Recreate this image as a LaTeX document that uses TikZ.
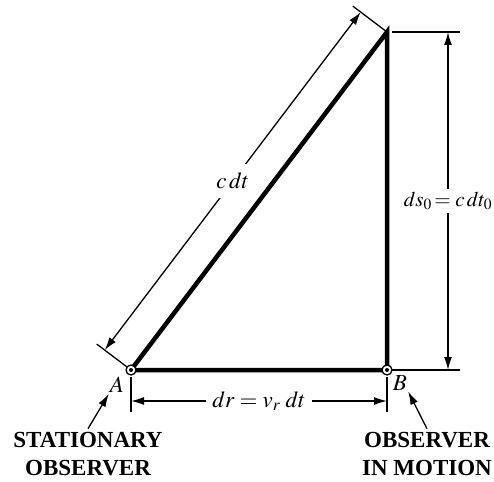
\documentclass[tikz,border=0pt]{standalone}
\usepackage{mathptmx}
\usepackage{fontspec}
\setmainfont{Liberation Serif}
\usetikzlibrary{arrows.meta,calc,positioning}

\begin{document}
\begin{tikzpicture}[x=1pt,y=-1pt,
  bar/.style={line width=4.5pt},
  extline/.style={line width=1.3pt},
  dimline/.style={line width=1.3pt,{Latex[length=13pt,width=8pt]}-{Latex[length=13pt,width=8pt]}},
  ptr/.style={line width=1.3pt,-{Latex[length=13pt,width=8pt]}},
  pivot/.style={circle,draw,fill=white,line width=1.3pt,minimum size=10pt,inner sep=0pt},
  lbl/.style={fill=white,inner sep=5pt,font=\fontsize{23}{27}\selectfont},
  caption/.style={align=center,font=\bfseries\fontsize{23}{28}\selectfont}
]
  \useasboundingbox (0,0) rectangle (494,481);

  % Triangle corners
  \coordinate (A) at (131,370);
  \coordinate (B) at (387,370);
  \coordinate (C) at (387,32);
  \draw[bar] (A) -- (B) -- (C) -- cycle;

  % Dimension c dt (along the hypotenuse)
  \coordinate (A1) at ($(A)!43pt!90:(C)$);
  \coordinate (C1) at ($(C)!43pt!-90:(A)$);
  \coordinate (A2) at ($(A)!33pt!90:(C)$);
  \coordinate (C2) at ($(C)!33pt!-90:(A)$);
  \draw[extline] (A) -- (A1);
  \draw[extline] (C) -- (C1);
  \draw[dimline] (A2) -- node[lbl,inner ysep=9pt]{$c\,dt$} (C2);

  % Dimension ds_0 (vertical side)
  \coordinate (C3) at (392,32);
  \coordinate (C4) at (460,32);
  \coordinate (B3) at (392,370);
  \coordinate (B4) at (460,370);
  \draw[extline] (C3) -- (C4);
  \draw[extline] (B3) -- (B4);
  \draw[dimline] (448,32) -- node[lbl,inner sep=3pt,font=\fontsize{21}{25}\selectfont]{$ds_0\!=c\,dt_0$} (448,370);

  % Dimension dr (base)
  \coordinate (A5) at (131,377);
  \coordinate (A6) at (131,412);
  \coordinate (B5) at (387,377);
  \coordinate (B6) at (387,412);
  \draw[extline] (A5) -- (A6);
  \draw[extline] (B5) -- (B6);
  \draw[dimline] (131,401) -- node[lbl,inner xsep=6pt,inner ysep=2pt]{$dr = v_r\;dt$} (387,401);

  % Observers
  \node[pivot] (pA) at (A) {};
  \node[pivot] (pB) at (B) {};
  \fill (pA.center) circle (2pt);
  \fill (pB.center) circle (2pt);
  \node[lbl,fill=none,inner sep=1pt] (labA) at (117,385) {$A$};
  \node[lbl,fill=none,inner sep=1pt] (labB) at (400,383) {$B$};
  \node[caption] (obsA) at (88,454) {STATIONARY\\OBSERVER};
  \node[caption] (obsB) at (427,454) {OBSERVER\\IN MOTION};
  \draw[ptr] (obsA.north) -- (labA.south west);
  \draw[ptr] (obsB.north) -- (labB.south east);
\end{tikzpicture}
\end{document}
